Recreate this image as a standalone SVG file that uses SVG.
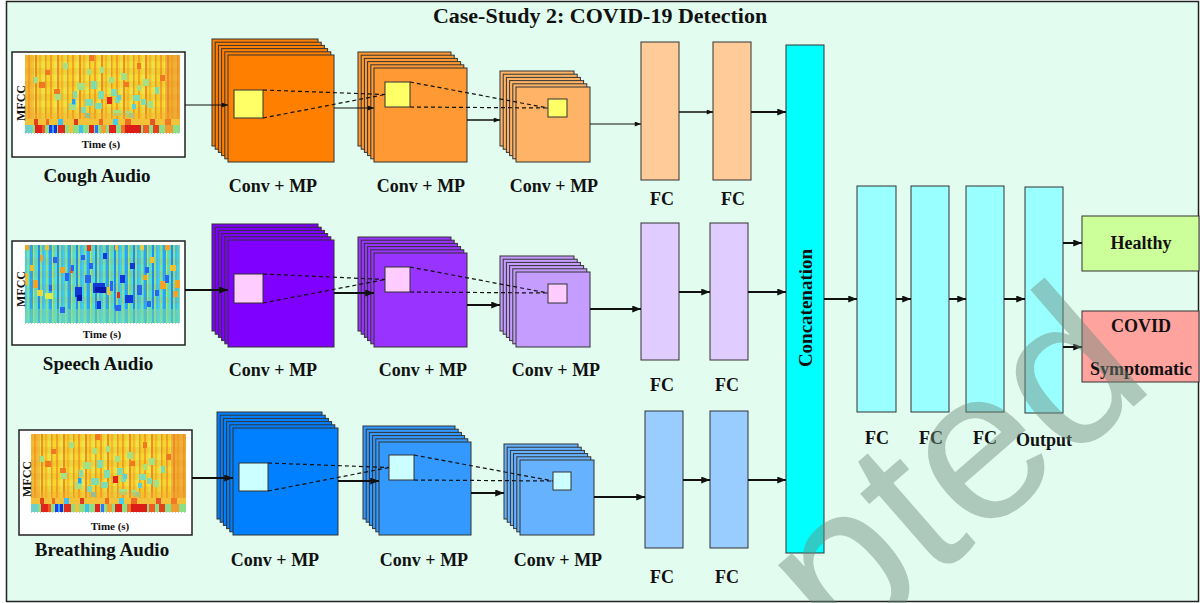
<svg xmlns="http://www.w3.org/2000/svg" xmlns:xlink="http://www.w3.org/1999/xlink" width="1200" height="603" viewBox="0 0 1200 603">
<defs>
<style>
.t{font-family:"Liberation Serif","Times New Roman",serif;font-weight:bold;fill:#111;text-anchor:middle}
.lbl{font-size:18px}
.alb{font-size:19px}
.sm{font-size:11px}
.mf{font-size:12px}
.ttl{font-size:22px}
.bx{stroke:#333;stroke-width:1}
.conn line{stroke:#111;fill:none}
.dash{stroke:#111;stroke-width:1.2;stroke-dasharray:4 3;fill:none}
.frame{fill:#fff;stroke:#222;stroke-width:1.5}
.o1{fill:#ff8000}.o2{fill:#ff9933}.o3{fill:#ffb366}
.p1{fill:#8000ff}.p2{fill:#9933ff}.p3{fill:#c59cff}
.b1{fill:#0080ff}.b2{fill:#3399ff}.b3{fill:#66b2ff}
</style>
<marker id="ah" viewBox="0 0 10 8" refX="10" refY="4" markerWidth="9" markerHeight="7" markerUnits="userSpaceOnUse" orient="auto"><path d="M0,0L10,4L0,8z" fill="#111"/></marker>
<marker id="ahs" viewBox="0 0 10 8" refX="10" refY="4" markerWidth="7" markerHeight="5" markerUnits="userSpaceOnUse" orient="auto"><path d="M0,0L10,4L0,8z" fill="#111"/></marker>
<pattern id="pw" width="22" height="78" patternUnits="userSpaceOnUse">
<rect width="22" height="78" fill="#f6d82c"/>
<rect x="3" width="2" height="78" fill="#f2a42a"/>
<rect x="7" width="3" height="78" fill="#eee648"/>
<rect x="10" width="2" height="78" fill="#ef8e26"/>
<rect x="14" width="2" height="78" fill="#f4bb34"/>
<rect x="17" width="3" height="78" fill="#e9e444"/>
<rect x="20" width="1.5" height="78" fill="#f29a2a"/>
</pattern>
<pattern id="pc" width="19" height="78" patternUnits="userSpaceOnUse">
<rect width="19" height="78" fill="#46cfe6"/>
<rect x="2" width="2" height="78" fill="#80e09c"/>
<rect x="5" width="3" height="78" fill="#2aa6f2"/>
<rect x="8" width="1.5" height="78" fill="#b6e858"/>
<rect x="10" width="3" height="78" fill="#58dccc"/>
<rect x="13" width="2" height="78" fill="#1f8ef0"/>
<rect x="15" width="2" height="78" fill="#8ee08a"/>
<rect x="17" width="2" height="78" fill="#3ec0f0"/>
</pattern>
<pattern id="rows" width="155" height="13" patternUnits="userSpaceOnUse">
<rect width="155" height="6.5" fill="#d86a10" opacity="0.12"/>
</pattern>
<g id="warmSpec">
<rect width="155" height="78" fill="url(#pw)"/>
<rect width="155" height="64" fill="url(#rows)"/>
<g fill="#a6e082">
<rect x="8" y="22" width="5" height="6"/><rect x="38" y="8" width="5" height="6"/><rect x="52" y="28" width="8" height="7"/>
<rect x="96" y="18" width="6" height="7"/><rect x="118" y="24" width="6" height="7"/><rect x="30" y="38" width="6" height="7"/>
<rect x="88" y="55" width="8" height="6"/><rect x="100" y="56" width="6" height="6"/><rect x="44" y="48" width="7" height="7"/><rect x="122" y="46" width="6" height="7"/><rect x="75" y="12" width="4" height="6"/>
<rect x="62" y="14" width="4" height="6"/><rect x="84" y="22" width="5" height="6"/><rect x="112" y="30" width="4" height="6"/>
</g>
<g fill="#7edcb0">
<rect x="66" y="26" width="6" height="8"/><rect x="73" y="36" width="6" height="8"/><rect x="60" y="44" width="8" height="7"/><rect x="70" y="48" width="7" height="6"/>
<rect x="86" y="34" width="6" height="7"/><rect x="90" y="42" width="5" height="6"/><rect x="108" y="40" width="7" height="6"/><rect x="116" y="44" width="5" height="6"/>
<rect x="104" y="58" width="5" height="5"/><rect x="48" y="36" width="4" height="7"/><rect x="130" y="32" width="4" height="7"/><rect x="56" y="52" width="5" height="6"/>
</g>
<g fill="#5ccfd8">
<rect x="47" y="44" width="4" height="6"/><rect x="107" y="49" width="4" height="5"/><rect x="60" y="58" width="5" height="5"/><rect x="92" y="40" width="4" height="5"/>
</g>
<rect x="47" y="44" width="3" height="5" fill="#2a9cf2"/>
<rect x="82" y="42" width="5" height="7" fill="#e02418"/>
<g fill="#f07822">
<rect x="64" y="0" width="5" height="6"/><rect x="14" y="27" width="6" height="6"/><rect x="29" y="34" width="6" height="5"/><rect x="99" y="27" width="5" height="5"/>
<rect x="135" y="20" width="5" height="6"/><rect x="20" y="15" width="5" height="5"/><rect x="112" y="8" width="4" height="6"/>
</g>
<rect x="140" y="0" width="15" height="64" fill="#ef8a2c" opacity="0.55"/>
<rect x="0" y="0" width="9" height="64" fill="#f09a2e" opacity="0.45"/>
<rect x="0" y="58" width="155" height="6" fill="#f3a02c" opacity="0.4"/>
<rect x="0" y="64" width="155" height="6" fill="#f2c238"/>
<rect x="9" y="64" width="4" height="6" fill="#e04418"/><rect x="21" y="64" width="3" height="6" fill="#f06a22"/><rect x="33" y="64" width="5" height="6" fill="#42bff0"/>
<rect x="49" y="64" width="4" height="6" fill="#e03a1e"/><rect x="74" y="64" width="4" height="6" fill="#f06a22"/><rect x="88" y="64" width="5" height="6" fill="#44cff0"/>
<rect x="100" y="64" width="6" height="6" fill="#f06a22"/><rect x="125" y="64" width="5" height="6" fill="#e8542a"/><rect x="140" y="64" width="6" height="6" fill="#ee7a26"/>
<rect x="0" y="70" width="155" height="8" fill="#8ede86"/>
<rect x="0" y="70" width="7" height="8" fill="#6ed0c8"/>
<rect x="10" y="70" width="7" height="8" fill="#e2221a"/><rect x="17" y="70" width="3" height="8" fill="#f05a22"/><rect x="24" y="70" width="3" height="8" fill="#1c3cf0"/>
<rect x="27" y="70" width="2" height="8" fill="#34a6ff"/><rect x="29" y="70" width="3" height="8" fill="#1a2ee0"/><rect x="33" y="70" width="7" height="8" fill="#e02a1c"/>
<rect x="44" y="70" width="4" height="8" fill="#f6c030"/><rect x="54" y="70" width="4" height="8" fill="#3ec0f0"/><rect x="64" y="70" width="5" height="8" fill="#e2221a"/>
<rect x="70" y="70" width="3" height="8" fill="#3274ff"/><rect x="76" y="70" width="5" height="8" fill="#f0a030"/><rect x="84" y="70" width="7" height="8" fill="#e2221a"/>
<rect x="96" y="70" width="4" height="8" fill="#f07024"/><rect x="100" y="70" width="16" height="8" fill="#dc1c16"/><rect x="118" y="70" width="6" height="8" fill="#f05a22"/>
<rect x="128" y="70" width="6" height="8" fill="#e2421a"/><rect x="140" y="70" width="8" height="8" fill="#f09c2e"/>
<line x1="0" y1="78.5" x2="155" y2="78.5" stroke="#bbb" stroke-width="0.8" stroke-dasharray="1 2"/>
</g>
<g id="coolSpec">
<rect width="155" height="78" fill="url(#pc)"/>
<rect width="155" height="78" fill="url(#rows)" opacity="0.6"/>
<rect x="0" y="64" width="155" height="14" fill="#74dcb0" opacity="0.55"/>
<g fill="#f0c030">
<rect x="20" y="0" width="4" height="5"/><rect x="90" y="0" width="3" height="5"/><rect x="5" y="20" width="4" height="6"/><rect x="82" y="42" width="4" height="8"/>
<rect x="145" y="20" width="6" height="6"/><rect x="125" y="12" width="4" height="6"/><rect x="0" y="28" width="3" height="12"/>
</g>
<g fill="#f4a424">
<rect x="0" y="0" width="4" height="5"/><rect x="140" y="0" width="5" height="5"/><rect x="8" y="35" width="5" height="8"/><rect x="35" y="22" width="5" height="6"/>
<rect x="118" y="30" width="4" height="5"/><rect x="150" y="35" width="5" height="8"/><rect x="148" y="46" width="5" height="6"/><rect x="15" y="10" width="3" height="6"/><rect x="135" y="36" width="6" height="8"/>
</g>
<rect x="62" y="0" width="4" height="6" fill="#e03c14"/><rect x="45" y="22" width="3" height="6" fill="#e4601c"/><rect x="92" y="47" width="3" height="6" fill="#e2301a"/>
<rect x="12" y="45" width="6" height="6" fill="#eed838"/><rect x="20" y="48" width="8" height="6" fill="#dcec48"/><rect x="115" y="0" width="4" height="5" fill="#e8d040"/>
<g fill="#2c64f2">
<rect x="60" y="30" width="6" height="8"/><rect x="112" y="40" width="5" height="10"/><rect x="40" y="28" width="4" height="8"/><rect x="120" y="22" width="4" height="6"/>
<rect x="35" y="62" width="5" height="6"/><rect x="90" y="60" width="6" height="6"/><rect x="28" y="12" width="4" height="6"/><rect x="140" y="30" width="4" height="8"/>
<rect x="56" y="10" width="4" height="5"/><rect x="85" y="36" width="3" height="10"/><rect x="130" y="45" width="4" height="6"/><rect x="64" y="18" width="4" height="6"/>
<rect x="46" y="20" width="3" height="6"/><rect x="24" y="40" width="3" height="6"/><rect x="122" y="56" width="4" height="6"/>
</g>
<g fill="#1438d8">
<rect x="50" y="42" width="7" height="10"/><rect x="68" y="38" width="12" height="10"/><rect x="95" y="30" width="5" height="8"/><rect x="100" y="50" width="8" height="8"/>
<rect x="78" y="8" width="4" height="6"/><rect x="72" y="56" width="4" height="8"/><rect x="105" y="18" width="5" height="6"/>
</g>
<g fill="#0818a8">
<rect x="52" y="50" width="5" height="6"/><rect x="75" y="42" width="6" height="6"/><rect x="70" y="42" width="5" height="5"/>
</g>
<line x1="0" y1="78.5" x2="155" y2="78.5" stroke="#bbb" stroke-width="0.8" stroke-dasharray="1 2"/>
</g>
</defs>

<rect width="1200" height="603" fill="#fff"/>
<rect x="6.5" y="1.5" width="1192" height="600" fill="#e2fdf0" stroke="#222" stroke-width="1.5"/>

<g id="title"><text class="t ttl" x="600" y="23">Case-Study 2: COVID-19 Detection</text></g>

<!-- Cough row -->
<g id="cough-input">
<rect class="frame" x="12" y="52" width="173" height="105"/>
<use xlink:href="#warmSpec" href="#warmSpec" transform="translate(25,55)"/>
<text class="t mf" transform="translate(25,103) rotate(-90)">MFCC</text>
<text class="t sm" x="101" y="148">Time (s)</text>
<text class="t alb" x="97" y="182">Cough Audio</text>
</g>
<g id="cough-conv1" class="bx">
<g transform="translate(212,39)" class="o1">
<rect x="0" y="0" width="106" height="107"/><rect x="3.2" y="3.2" width="106" height="107"/><rect x="6.4" y="6.4" width="106" height="107"/>
<rect x="9.6" y="9.6" width="106" height="107"/><rect x="12.8" y="12.8" width="106" height="107"/><rect x="16" y="16" width="106" height="107"/>
</g>
<rect x="234" y="90" width="29" height="28" fill="#ffff66"/>
<text class="t lbl" x="273" y="192" stroke="none">Conv + MP</text>
</g>
<g id="cough-conv2" class="bx">
<g transform="translate(358,52)" class="o2">
<rect x="0" y="0" width="93" height="94"/><rect x="3.2" y="3.2" width="93" height="94"/><rect x="6.4" y="6.4" width="93" height="94"/>
<rect x="9.6" y="9.6" width="93" height="94"/><rect x="12.8" y="12.8" width="93" height="94"/><rect x="16" y="16" width="93" height="94"/>
</g>
<rect x="385" y="82" width="25" height="25" fill="#ffff66"/>
<text class="t lbl" x="421" y="192" stroke="none">Conv + MP</text>
</g>
<g id="cough-conv3" class="bx">
<g transform="translate(500,71)" class="o3">
<rect x="0" y="0" width="74" height="75"/><rect x="3.2" y="3.2" width="74" height="75"/><rect x="6.4" y="6.4" width="74" height="75"/>
<rect x="9.6" y="9.6" width="74" height="75"/><rect x="12.8" y="12.8" width="74" height="75"/><rect x="16" y="16" width="74" height="75"/>
</g>
<rect x="548" y="99" width="19" height="18" fill="#ffff66"/>
<text class="t lbl" x="554" y="192" stroke="none">Conv + MP</text>
</g>
<g id="cough-fc1"><rect class="bx" x="641" y="42" width="38" height="138" fill="#ffcc99"/><text class="t lbl" x="662" y="205">FC</text></g>
<g id="cough-fc2"><rect class="bx" x="713" y="42" width="38" height="138" fill="#ffcc99"/><text class="t lbl" x="733" y="205">FC</text></g>

<!-- Speech row -->
<g id="speech-input">
<rect class="frame" x="12" y="241" width="173" height="104"/>
<use xlink:href="#coolSpec" href="#coolSpec" transform="translate(25,245)"/>
<text class="t mf" transform="translate(25,289) rotate(-90)">MFCC</text>
<text class="t sm" x="102" y="338">Time (s)</text>
<text class="t alb" x="98" y="370">Speech Audio</text>
</g>
<g id="speech-conv1" class="bx">
<g transform="translate(212,224)" class="p1">
<rect x="0" y="0" width="106" height="107"/><rect x="3.2" y="3.2" width="106" height="107"/><rect x="6.4" y="6.4" width="106" height="107"/>
<rect x="9.6" y="9.6" width="106" height="107"/><rect x="12.8" y="12.8" width="106" height="107"/><rect x="16" y="16" width="106" height="107"/>
</g>
<rect x="234" y="274" width="29" height="29" fill="#ffccff"/>
<text class="t lbl" x="273" y="376" stroke="none">Conv + MP</text>
</g>
<g id="speech-conv2" class="bx">
<g transform="translate(358,237)" class="p2">
<rect x="0" y="0" width="93" height="94"/><rect x="3.2" y="3.2" width="93" height="94"/><rect x="6.4" y="6.4" width="93" height="94"/>
<rect x="9.6" y="9.6" width="93" height="94"/><rect x="12.8" y="12.8" width="93" height="94"/><rect x="16" y="16" width="93" height="94"/>
</g>
<rect x="385" y="267" width="25" height="25" fill="#ffccff"/>
<text class="t lbl" x="423" y="376" stroke="none">Conv + MP</text>
</g>
<g id="speech-conv3" class="bx">
<g transform="translate(500,256)" class="p3">
<rect x="0" y="0" width="74" height="75"/><rect x="3.2" y="3.2" width="74" height="75"/><rect x="6.4" y="6.4" width="74" height="75"/>
<rect x="9.6" y="9.6" width="74" height="75"/><rect x="12.8" y="12.8" width="74" height="75"/><rect x="16" y="16" width="74" height="75"/>
</g>
<rect x="548" y="284" width="19" height="19" fill="#ffccff"/>
<text class="t lbl" x="556" y="376" stroke="none">Conv + MP</text>
</g>
<g id="speech-fc1"><rect class="bx" x="641" y="223" width="38" height="137" fill="#e0ccff"/><text class="t lbl" x="662" y="391">FC</text></g>
<g id="speech-fc2"><rect class="bx" x="710" y="223" width="38" height="137" fill="#e0ccff"/><text class="t lbl" x="727" y="391">FC</text></g>

<!-- Breathing row -->
<g id="breathing-input">
<rect class="frame" x="19" y="430" width="173" height="105"/>
<use xlink:href="#warmSpec" href="#warmSpec" transform="translate(31,434)"/>
<text class="t mf" transform="translate(31,479) rotate(-90)">MFCC</text>
<text class="t sm" x="110" y="530">Time (s)</text>
<text class="t alb" x="102" y="556">Breathing Audio</text>
</g>
<g id="breathing-conv1" class="bx">
<g transform="translate(217,412)" class="b1">
<rect x="0" y="0" width="105" height="107"/><rect x="3.2" y="3.2" width="105" height="107"/><rect x="6.4" y="6.4" width="105" height="107"/>
<rect x="9.6" y="9.6" width="105" height="107"/><rect x="12.8" y="12.8" width="105" height="107"/><rect x="16" y="16" width="105" height="107"/>
</g>
<rect x="239" y="463" width="29" height="28" fill="#ccffff"/>
<text class="t lbl" x="275" y="566" stroke="none">Conv + MP</text>
</g>
<g id="breathing-conv2" class="bx">
<g transform="translate(363,426)" class="b2">
<rect x="0" y="0" width="92" height="93"/><rect x="3.2" y="3.2" width="92" height="93"/><rect x="6.4" y="6.4" width="92" height="93"/>
<rect x="9.6" y="9.6" width="92" height="93"/><rect x="12.8" y="12.8" width="92" height="93"/><rect x="16" y="16" width="92" height="93"/>
</g>
<rect x="389" y="455" width="25" height="25" fill="#ccffff"/>
<text class="t lbl" x="424" y="566" stroke="none">Conv + MP</text>
</g>
<g id="breathing-conv3" class="bx">
<g transform="translate(504,444)" class="b3">
<rect x="0" y="0" width="74" height="75"/><rect x="3.2" y="3.2" width="74" height="75"/><rect x="6.4" y="6.4" width="74" height="75"/>
<rect x="9.6" y="9.6" width="74" height="75"/><rect x="12.8" y="12.8" width="74" height="75"/><rect x="16" y="16" width="74" height="75"/>
</g>
<rect x="553" y="472" width="18" height="18" fill="#ccffff"/>
<text class="t lbl" x="558" y="566" stroke="none">Conv + MP</text>
</g>
<g id="breathing-fc1"><rect class="bx" x="645" y="411" width="38" height="137" fill="#99ccff"/><text class="t lbl" x="662" y="583">FC</text></g>
<g id="breathing-fc2"><rect class="bx" x="710" y="411" width="38" height="137" fill="#99ccff"/><text class="t lbl" x="727" y="583">FC</text></g>

<!-- Fusion -->
<g id="concatenation">
<rect class="bx" x="786" y="45" width="38" height="508" fill="#00ffff"/>
<text class="t" font-size="19" transform="translate(812,308) rotate(-90)">Concatenation</text>
</g>
<g id="fusion-fc1"><rect class="bx" x="857" y="186" width="39" height="226" fill="#99ffff"/><text class="t lbl" x="877" y="444">FC</text></g>
<g id="fusion-fc2"><rect class="bx" x="911" y="186" width="38" height="226" fill="#99ffff"/><text class="t lbl" x="931" y="444">FC</text></g>
<g id="fusion-fc3"><rect class="bx" x="966" y="186" width="38" height="226" fill="#99ffff"/><text class="t lbl" x="985" y="444">FC</text></g>
<g id="output-layer"><rect class="bx" x="1025" y="187" width="38" height="226" fill="#99ffff"/><text class="t lbl" x="1044" y="446">Output</text></g>
<g id="healthy"><rect class="bx" x="1082" y="216" width="117" height="55" fill="#ccff99"/><text class="t lbl" x="1141" y="249">Healthy</text></g>
<g id="covid"><rect class="bx" x="1082" y="311" width="117" height="71" fill="#ffa39e"/><text class="t lbl" x="1141" y="332">COVID</text><text class="t lbl" x="1141" y="375">Symptomatic</text></g>

<g id="connectors" class="conn">
<g class="dash">
<path d="M263,90L385,94.5M263,118L385,94.5M410,82L548,108M410,107L548,108"/>
<path d="M263,274L385,279.5M263,303L385,279.5M410,267L548,293M410,292L548,293"/>
<path d="M268,463L389,467.5M268,491L389,467.5M414,455L553,481M414,480L553,481"/>
</g>
<line x1="185" y1="105" x2="228" y2="105" stroke-width="1" marker-end="url(#ahs)"/>
<line x1="334" y1="108" x2="374" y2="108" stroke-width="1" marker-end="url(#ahs)"/>
<line x1="467" y1="120" x2="500" y2="120" stroke-width="1.3" marker-end="url(#ahs)"/>
<line x1="590" y1="124" x2="641" y2="124" stroke-width="1" marker-end="url(#ahs)"/>
<line x1="679" y1="112" x2="713" y2="112" stroke-width="1.5" marker-end="url(#ahs)"/>
<line x1="751" y1="112" x2="786" y2="112" stroke-width="2" marker-end="url(#ah)"/>
<line x1="185" y1="290" x2="228" y2="290" stroke-width="2" marker-end="url(#ah)"/>
<line x1="334" y1="293" x2="374" y2="293" stroke-width="2" marker-end="url(#ah)"/>
<line x1="467" y1="305" x2="500" y2="305" stroke-width="2" marker-end="url(#ah)"/>
<line x1="590" y1="309" x2="641" y2="309" stroke-width="2" marker-end="url(#ah)"/>
<line x1="679" y1="292" x2="710" y2="292" stroke-width="2" marker-end="url(#ah)"/>
<line x1="748" y1="292" x2="786" y2="292" stroke-width="2" marker-end="url(#ah)"/>
<line x1="192" y1="478" x2="233" y2="478" stroke-width="2" marker-end="url(#ah)"/>
<line x1="338" y1="481" x2="379" y2="481" stroke-width="2" marker-end="url(#ah)"/>
<line x1="471" y1="493" x2="504" y2="493" stroke-width="2" marker-end="url(#ah)"/>
<line x1="594" y1="497" x2="645" y2="497" stroke-width="2" marker-end="url(#ah)"/>
<line x1="683" y1="480" x2="710" y2="480" stroke-width="2" marker-end="url(#ah)"/>
<line x1="748" y1="480" x2="786" y2="480" stroke-width="2" marker-end="url(#ah)"/>
<line x1="824" y1="299" x2="857" y2="299" stroke-width="2" marker-end="url(#ah)"/>
<line x1="896" y1="299" x2="911" y2="299" stroke-width="2" marker-end="url(#ah)"/>
<line x1="949" y1="299" x2="966" y2="299" stroke-width="2" marker-end="url(#ah)"/>
<line x1="1004" y1="299" x2="1025" y2="299" stroke-width="2" marker-end="url(#ah)"/>
<line x1="1063" y1="243" x2="1082" y2="243" stroke-width="2" marker-end="url(#ah)"/>
<line x1="1063" y1="347" x2="1082" y2="347" stroke-width="2" marker-end="url(#ah)"/>
</g>

<g id="watermark"><text x="0" y="0" transform="translate(842,660) rotate(-41)" font-family="Liberation Sans, Arial, sans-serif" font-size="215" fill="#6e8c7d" opacity="0.45">pted</text></g>
</svg>
